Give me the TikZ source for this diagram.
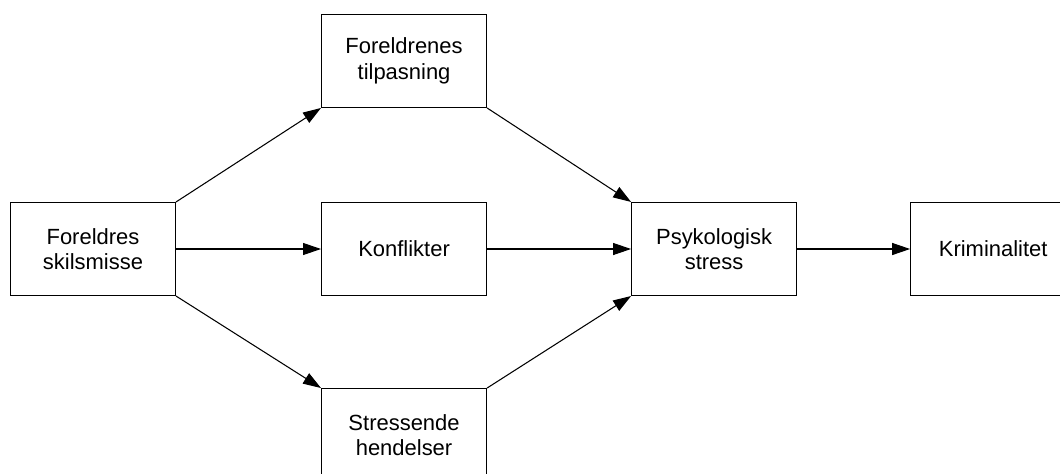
\documentclass[tikz,border=0pt]{standalone}
\usepackage{fontspec}
\setmainfont{Liberation Sans}
\usetikzlibrary{positioning}
\usetikzlibrary{arrows.meta}

\begin{document}
\begin{tikzpicture}[
    boks/.style={rectangle, draw, line width=0.6pt, minimum width=3.3cm, minimum height=1.86cm,
      align=center, font=\fontsize{12.5pt}{14.4pt}\selectfont},
    pil/.style={-{Triangle[length=3.6mm, width=2.4mm]}, line width=0.6pt}
  ]

    % Frame
    \useasboundingbox (-1.86,-4.48) rectangle (19.34,4.98);
    \clip (-1.86,-4.48) rectangle (19.34,4.98);

    % Nodes
    \node[boks] (skilsmisse) {Foreldres\\skilsmisse};
    \node[boks, right=2.9cm of skilsmisse] (konflikter) {Konflikter};
    \node[boks, above=1.88cm of konflikter] (tilpasning) {Foreldrenes\\tilpasning};
    \node[boks, below=1.84cm of konflikter] (hendelser) {Stressende\\hendelser};
    \node[boks, right=2.88cm of konflikter] (stress) {Psykologisk\\stress};
    \node[boks, right=2.26cm of stress] (kriminalitet) {Kriminalitet};

    % Arrows
    \draw[pil] (skilsmisse.north east) -- (tilpasning.south west);
    \draw[pil] (skilsmisse) -- (konflikter);
    \draw[pil] (skilsmisse.south east) -- (hendelser.north west);
    \draw[pil] (tilpasning.south east) -- (stress.north west);
    \draw[pil] (konflikter) -- (stress);
    \draw[pil] (hendelser.north east) -- (stress.south west);
    \draw[pil] (stress) -- (kriminalitet);
  \end{tikzpicture}
\end{document}
